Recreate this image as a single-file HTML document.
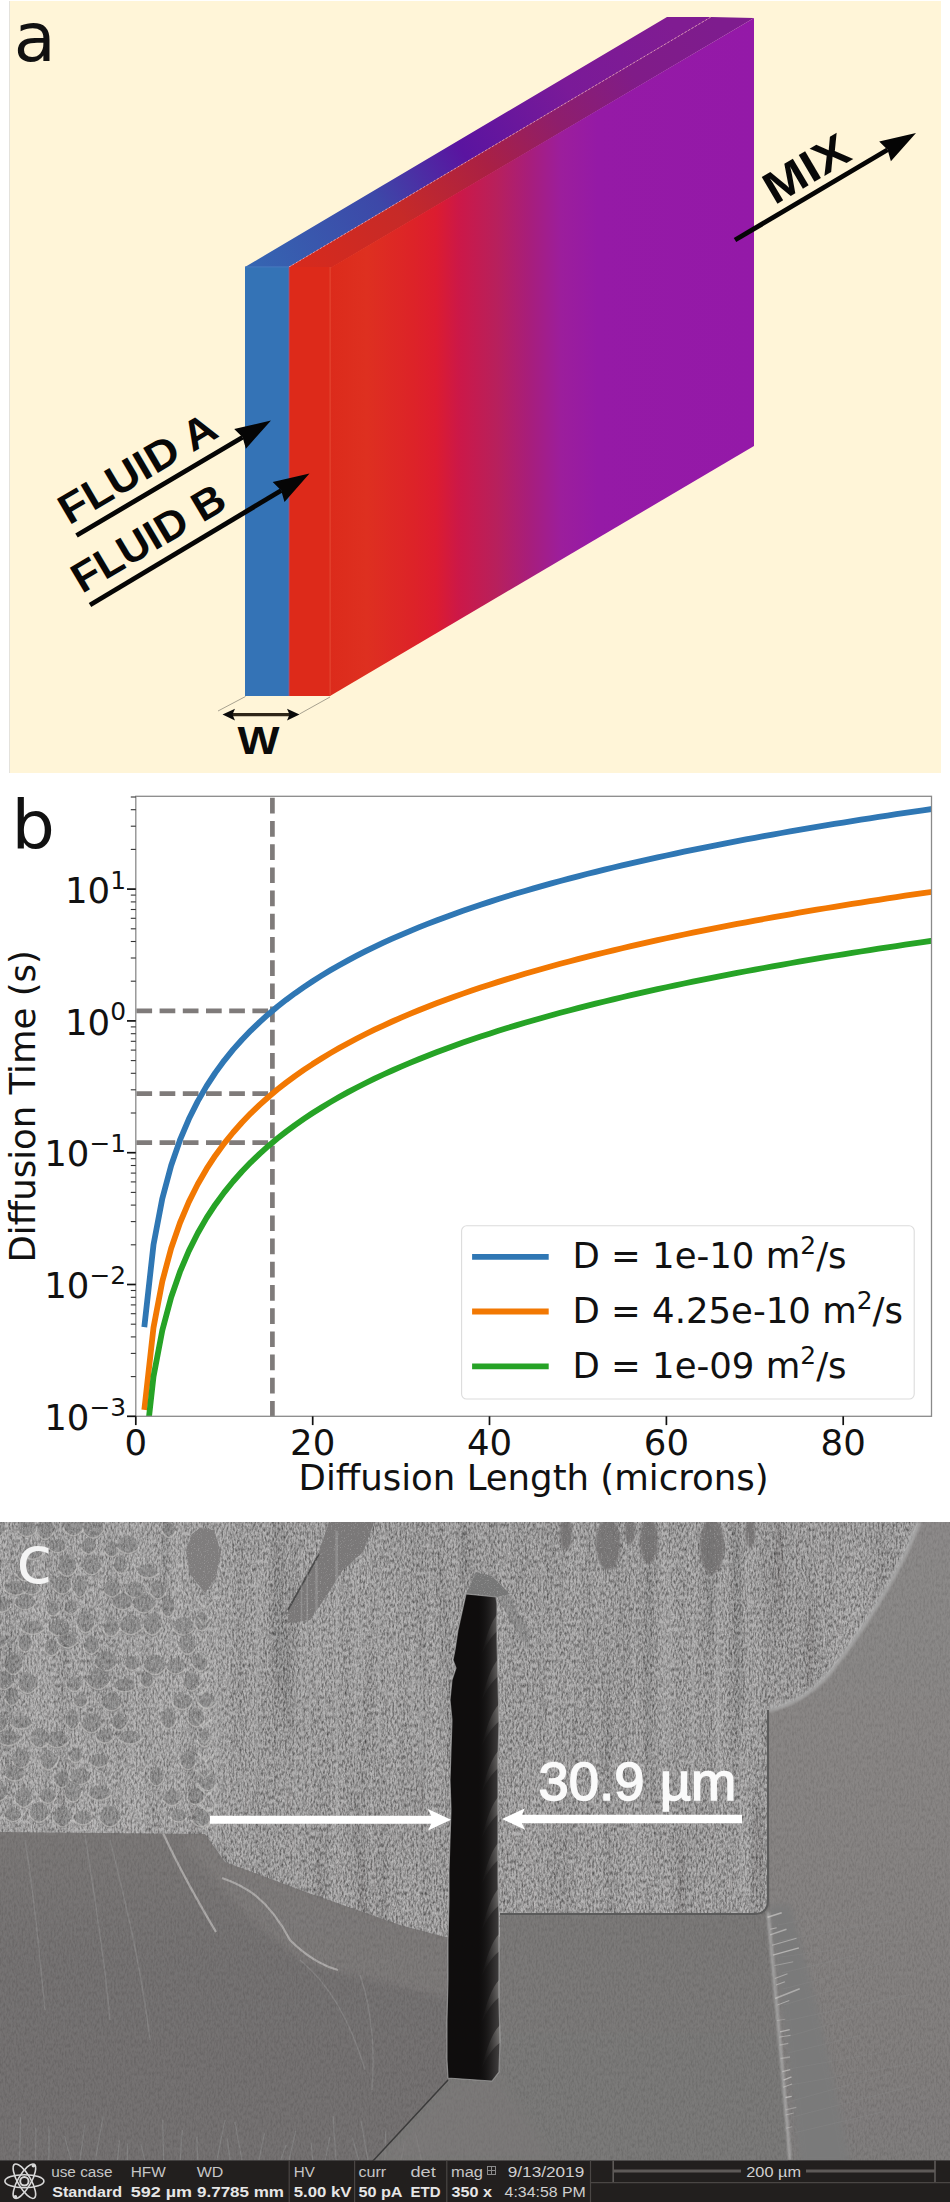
<!DOCTYPE html>
<html><head><meta charset="utf-8"><title>Diffusion mixing figure</title>
<style>
html,body{margin:0;padding:0;background:#fff;}
body{width:950px;height:2202px;overflow:hidden;position:relative;}
svg{display:block;position:absolute;left:0;top:0;}
.dj{font-family:"DejaVu Sans","Liberation Sans",sans-serif;}
.ls{font-family:"Liberation Sans","DejaVu Sans",sans-serif;}
</style></head><body>
<svg width="950" height="2202" viewBox="0 0 950 2202">
<defs>
<linearGradient id="gside" gradientUnits="userSpaceOnUse" x1="330" y1="0" x2="754" y2="0">
<stop offset="0" stop-color="#dc2b1b"/>
<stop offset="0.086" stop-color="#de3020"/>
<stop offset="0.196" stop-color="#dd2328"/>
<stop offset="0.25" stop-color="#dc1c30"/>
<stop offset="0.304" stop-color="#cc1848"/>
<stop offset="0.392" stop-color="#b8205c"/>
<stop offset="0.467" stop-color="#a81e7a"/>
<stop offset="0.545" stop-color="#9c1e9c"/>
<stop offset="0.632" stop-color="#951aa6"/>
<stop offset="1" stop-color="#9419a8"/>
</linearGradient>
<linearGradient id="gtopb" gradientUnits="userSpaceOnUse" x1="245" y1="267" x2="669" y2="17">
<stop offset="0" stop-color="#3566b2"/>
<stop offset="0.3" stop-color="#3d48a8"/>
<stop offset="0.5" stop-color="#5a14a0"/>
<stop offset="0.75" stop-color="#7a1a98"/>
<stop offset="1" stop-color="#801c92"/>
</linearGradient>
<linearGradient id="gtopr" gradientUnits="userSpaceOnUse" x1="289" y1="267" x2="713" y2="17">
<stop offset="0" stop-color="#d82a1c"/>
<stop offset="0.25" stop-color="#c62a28"/>
<stop offset="0.45" stop-color="#aa2044"/>
<stop offset="0.62" stop-color="#8e1e6c"/>
<stop offset="0.8" stop-color="#801c88"/>
<stop offset="1" stop-color="#7e1c8e"/>
</linearGradient>
</defs>
<g id="panelA">
<rect x="10" y="1" width="931" height="772" fill="#fff5d8"/>
<rect x="9" y="1" width="1" height="772" fill="#e4e2dc"/>
<polygon points="245,267 289,267 711,17 667,17" fill="url(#gtopb)"/>
<polygon points="289,267 331,268 754,18 711,17" fill="url(#gtopr)"/>
<polygon points="330,268 754,18 754,446 330,696" fill="url(#gside)"/>
<line x1="289" y1="267" x2="711" y2="17" stroke="#e9a0b8" stroke-width="0.9" stroke-dasharray="2 2" opacity="0.9"/>
<rect x="245" y="267" width="44" height="429" fill="#3473b6"/>
<rect x="289" y="267" width="41" height="429" fill="#dd2a1a"/>
<rect x="288.3" y="267" width="1.4" height="429" fill="#9a5a8a" opacity="0.6"/>
<rect x="329.6" y="267" width="1" height="429" fill="#e85a40" opacity="0.7"/>
<rect x="245" y="266.2" width="44" height="1.3" fill="#4a7cc0" opacity="0.7"/>
<line x1="245.5" y1="696.5" x2="218" y2="711" stroke="#a8a290" stroke-width="1"/>
<line x1="330" y1="697" x2="299.5" y2="714" stroke="#a8a290" stroke-width="1"/>
<line x1="230" y1="714.6" x2="293" y2="714.6" stroke="#2e2618" stroke-width="3.2"/>
<polygon points="222.5,714.6 235,708.8 232.5,714.6 235,720.6" fill="#0a0a0a"/>
<polygon points="299.5,714.6 287,708.8 289.5,714.6 287,720.6" fill="#0a0a0a"/>
<text x="237.5" y="754" class="ls" font-weight="bold" font-size="38" fill="#0a0a0a" textLength="42" lengthAdjust="spacingAndGlyphs">W</text>
<text x="13.8" y="61" class="dj" font-size="68.5" fill="#111">a</text>
<line x1="76.5" y1="535.5" x2="242.6" y2="437.3" stroke="#050505" stroke-width="4.8"/>
<polygon points="271.0,420.5 245.9,448.7 242.6,437.3 234.2,428.9" fill="#050505"/>
<line x1="90.0" y1="605.0" x2="281.2" y2="490.5" stroke="#050505" stroke-width="4.8"/>
<polygon points="309.5,473.5 284.5,501.9 281.2,490.5 272.7,482.1" fill="#050505"/>
<line x1="735.0" y1="240.0" x2="887.6" y2="149.8" stroke="#050505" stroke-width="4.8"/>
<polygon points="916.0,133.0 890.9,161.2 887.6,149.8 879.2,141.4" fill="#050505"/>
<text transform="translate(69,525.5) rotate(-30.6)" class="ls" font-weight="bold" font-size="42" fill="#080808" textLength="176" lengthAdjust="spacingAndGlyphs">FLUID A</text>
<text transform="translate(82,594) rotate(-30.6)" class="ls" font-weight="bold" font-size="42" fill="#080808" textLength="171" lengthAdjust="spacingAndGlyphs">FLUID B</text>
<text transform="translate(774.5,205.5) rotate(-30.6)" class="ls" font-weight="bold" font-size="45" fill="#080808" textLength="92" lengthAdjust="spacingAndGlyphs">MIX</text>
</g>
<g id="panelB">
<text x="11.6" y="849" class="dj" font-size="68.3" fill="#111">b</text>
<clipPath id="clipax"><rect x="135.8" y="796.3" width="795.7" height="620.0"/></clipPath>
<g stroke="#7f7b7a" stroke-width="4.7" fill="none" stroke-dasharray="15.7 7.5">
<line x1="272.4" y1="797.8" x2="272.4" y2="1416.3"/>
<line x1="136.4" y1="1010.8" x2="270.4" y2="1010.8"/>
<line x1="136.4" y1="1093.6" x2="270.4" y2="1093.6"/>
<line x1="136.4" y1="1142.6" x2="270.4" y2="1142.6"/>
</g>
<g clip-path="url(#clipax)" fill="none" stroke-width="5.8" stroke-linejoin="round" stroke-linecap="square">
<polyline stroke="#2f77b4" points="144.64,1324.18 153.49,1244.82 162.33,1198.41 171.17,1165.47 180.02,1139.93 188.86,1119.06 197.70,1101.41 206.54,1086.12 215.39,1072.64 224.23,1060.58 233.07,1049.66 241.92,1039.70 250.76,1030.54 259.60,1022.06 268.45,1014.16 277.29,1006.77 286.13,999.83 294.97,993.29 303.82,987.10 312.66,981.22 321.50,975.64 330.35,970.31 339.19,965.22 348.03,960.35 356.88,955.68 365.72,951.19 374.56,946.87 383.40,942.70 392.25,938.69 401.09,934.81 409.93,931.05 418.78,927.42 427.62,923.90 436.46,920.48 445.31,917.16 454.15,913.93 462.99,910.80 471.83,907.74 480.68,904.77 489.52,901.87 498.36,899.05 507.21,896.29 516.05,893.59 524.89,890.96 533.74,888.39 542.58,885.87 551.42,883.41 560.26,881.00 569.11,878.64 577.95,876.33 586.79,874.06 595.64,871.84 604.48,869.66 613.32,867.52 622.16,865.42 631.01,863.35 639.85,861.33 648.69,859.34 657.54,857.38 666.38,855.46 675.22,853.56 684.07,851.70 692.91,849.87 701.75,848.07 710.60,846.29 719.44,844.54 728.28,842.82 737.12,841.13 745.97,839.46 754.81,837.81 763.65,836.18 772.50,834.58 781.34,833.00 790.18,831.45 799.03,829.91 807.87,828.39 816.71,826.90 825.55,825.42 834.40,823.96 843.24,822.52 852.08,821.10 860.93,819.69 869.77,818.31 878.61,816.94 887.45,815.58 896.30,814.24 905.14,812.92 913.98,811.61 922.83,810.32 931.67,809.04"/>
<polyline stroke="#f27802" points="144.64,1407.00 153.49,1327.65 162.33,1281.23 171.17,1248.29 180.02,1222.75 188.86,1201.88 197.70,1184.23 206.54,1168.94 215.39,1155.46 224.23,1143.40 233.07,1132.49 241.92,1122.53 250.76,1113.36 259.60,1104.88 268.45,1096.98 277.29,1089.59 286.13,1082.65 294.97,1076.11 303.82,1069.92 312.66,1064.05 321.50,1058.46 330.35,1053.13 339.19,1048.05 348.03,1043.17 356.88,1038.50 365.72,1034.01 374.56,1029.69 383.40,1025.53 392.25,1021.51 401.09,1017.63 409.93,1013.87 418.78,1010.24 427.62,1006.72 436.46,1003.30 445.31,999.98 454.15,996.76 462.99,993.62 471.83,990.57 480.68,987.59 489.52,984.69 498.36,981.87 507.21,979.11 516.05,976.42 524.89,973.78 533.74,971.21 542.58,968.69 551.42,966.23 560.26,963.82 569.11,961.46 577.95,959.15 586.79,956.88 595.64,954.66 604.48,952.48 613.32,950.34 622.16,948.24 631.01,946.18 639.85,944.15 648.69,942.16 657.54,940.20 666.38,938.28 675.22,936.38 684.07,934.52 692.91,932.69 701.75,930.89 710.60,929.11 719.44,927.37 728.28,925.64 737.12,923.95 745.97,922.28 754.81,920.63 763.65,919.01 772.50,917.40 781.34,915.83 790.18,914.27 799.03,912.73 807.87,911.21 816.71,909.72 825.55,908.24 834.40,906.78 843.24,905.34 852.08,903.92 860.93,902.52 869.77,901.13 878.61,899.76 887.45,898.40 896.30,897.06 905.14,895.74 913.98,894.43 922.83,893.14 931.67,891.86"/>
<polyline stroke="#26a326" points="144.64,1455.98 153.49,1376.62 162.33,1330.21 171.17,1297.27 180.02,1271.73 188.86,1250.86 197.70,1233.21 206.54,1217.92 215.39,1204.44 224.23,1192.38 233.07,1181.46 241.92,1171.50 250.76,1162.34 259.60,1153.86 268.45,1145.96 277.29,1138.57 286.13,1131.63 294.97,1125.09 303.82,1118.90 312.66,1113.02 321.50,1107.44 330.35,1102.11 339.19,1097.02 348.03,1092.15 356.88,1087.48 365.72,1082.99 374.56,1078.67 383.40,1074.50 392.25,1070.49 401.09,1066.61 409.93,1062.85 418.78,1059.22 427.62,1055.70 436.46,1052.28 445.31,1048.96 454.15,1045.73 462.99,1042.60 471.83,1039.54 480.68,1036.57 489.52,1033.67 498.36,1030.85 507.21,1028.09 516.05,1025.39 524.89,1022.76 533.74,1020.19 542.58,1017.67 551.42,1015.21 560.26,1012.80 569.11,1010.44 577.95,1008.13 586.79,1005.86 595.64,1003.64 604.48,1001.46 613.32,999.32 622.16,997.22 631.01,995.15 639.85,993.13 648.69,991.14 657.54,989.18 666.38,987.26 675.22,985.36 684.07,983.50 692.91,981.67 701.75,979.87 710.60,978.09 719.44,976.34 728.28,974.62 737.12,972.93 745.97,971.26 754.81,969.61 763.65,967.98 772.50,966.38 781.34,964.80 790.18,963.25 799.03,961.71 807.87,960.19 816.71,958.70 825.55,957.22 834.40,955.76 843.24,954.32 852.08,952.90 860.93,951.49 869.77,950.11 878.61,948.74 887.45,947.38 896.30,946.04 905.14,944.72 913.98,943.41 922.83,942.12 931.67,940.84"/>
</g>
<rect x="135.8" y="796.3" width="795.7" height="620.0" fill="none" stroke="#8a8a8a" stroke-width="1.3"/>
<g stroke="#111" stroke-width="1.7"><line x1="135.8" y1="1416.3" x2="135.8" y2="1425.1"/><line x1="312.7" y1="1416.3" x2="312.7" y2="1425.1"/><line x1="489.5" y1="1416.3" x2="489.5" y2="1425.1"/><line x1="666.4" y1="1416.3" x2="666.4" y2="1425.1"/><line x1="843.2" y1="1416.3" x2="843.2" y2="1425.1"/><line x1="127.0" y1="1416.3" x2="135.8" y2="1416.3"/><line x1="127.0" y1="1284.5" x2="135.8" y2="1284.5"/><line x1="127.0" y1="1152.7" x2="135.8" y2="1152.7"/><line x1="127.0" y1="1020.9" x2="135.8" y2="1020.9"/><line x1="127.0" y1="889.1" x2="135.8" y2="889.1"/></g>
<g stroke="#333" stroke-width="1.1"><line x1="130.8" y1="1376.6" x2="135.8" y2="1376.6"/><line x1="130.8" y1="1353.4" x2="135.8" y2="1353.4"/><line x1="130.8" y1="1336.9" x2="135.8" y2="1336.9"/><line x1="130.8" y1="1324.2" x2="135.8" y2="1324.2"/><line x1="130.8" y1="1313.7" x2="135.8" y2="1313.7"/><line x1="130.8" y1="1304.9" x2="135.8" y2="1304.9"/><line x1="130.8" y1="1297.3" x2="135.8" y2="1297.3"/><line x1="130.8" y1="1290.5" x2="135.8" y2="1290.5"/><line x1="130.8" y1="1244.8" x2="135.8" y2="1244.8"/><line x1="130.8" y1="1221.6" x2="135.8" y2="1221.6"/><line x1="130.8" y1="1205.1" x2="135.8" y2="1205.1"/><line x1="130.8" y1="1192.4" x2="135.8" y2="1192.4"/><line x1="130.8" y1="1181.9" x2="135.8" y2="1181.9"/><line x1="130.8" y1="1173.1" x2="135.8" y2="1173.1"/><line x1="130.8" y1="1165.5" x2="135.8" y2="1165.5"/><line x1="130.8" y1="1158.7" x2="135.8" y2="1158.7"/><line x1="130.8" y1="1113.0" x2="135.8" y2="1113.0"/><line x1="130.8" y1="1089.8" x2="135.8" y2="1089.8"/><line x1="130.8" y1="1073.3" x2="135.8" y2="1073.3"/><line x1="130.8" y1="1060.6" x2="135.8" y2="1060.6"/><line x1="130.8" y1="1050.1" x2="135.8" y2="1050.1"/><line x1="130.8" y1="1041.3" x2="135.8" y2="1041.3"/><line x1="130.8" y1="1033.7" x2="135.8" y2="1033.7"/><line x1="130.8" y1="1026.9" x2="135.8" y2="1026.9"/><line x1="130.8" y1="981.2" x2="135.8" y2="981.2"/><line x1="130.8" y1="958.0" x2="135.8" y2="958.0"/><line x1="130.8" y1="941.5" x2="135.8" y2="941.5"/><line x1="130.8" y1="928.8" x2="135.8" y2="928.8"/><line x1="130.8" y1="918.3" x2="135.8" y2="918.3"/><line x1="130.8" y1="909.5" x2="135.8" y2="909.5"/><line x1="130.8" y1="901.9" x2="135.8" y2="901.9"/><line x1="130.8" y1="895.1" x2="135.8" y2="895.1"/><line x1="130.8" y1="849.4" x2="135.8" y2="849.4"/><line x1="130.8" y1="826.2" x2="135.8" y2="826.2"/><line x1="130.8" y1="809.7" x2="135.8" y2="809.7"/><line x1="130.8" y1="797.0" x2="135.8" y2="797.0"/></g>
<g class="dj" font-size="35.5" fill="#111" text-anchor="middle">
<text x="135.8" y="1454.5">0</text>
<text x="312.7" y="1454.5">20</text>
<text x="489.5" y="1454.5">40</text>
<text x="666.4" y="1454.5">60</text>
<text x="843.2" y="1454.5">80</text>
</g>
<g class="dj" font-size="35.5" fill="#111" text-anchor="end">
<text x="126" y="1429.9">10<tspan font-size="24.85" dy="-14.2">−3</tspan></text>
<text x="126" y="1298.1">10<tspan font-size="24.85" dy="-14.2">−2</tspan></text>
<text x="126" y="1166.3">10<tspan font-size="24.85" dy="-14.2">−1</tspan></text>
<text x="126" y="1034.5">10<tspan font-size="24.85" dy="-14.2">0</tspan></text>
<text x="126" y="902.7">10<tspan font-size="24.85" dy="-14.2">1</tspan></text>
</g>
<text x="533.6" y="1490.4" class="dj" font-size="35.5" fill="#111" text-anchor="middle">Diffusion Length (microns)</text>
<text transform="translate(35.1,1106.3) rotate(-90)" class="dj" font-size="35.5" fill="#111" text-anchor="middle">Diffusion Time (s)</text>
<rect x="461.6" y="1225.8" width="452.6" height="173.2" rx="5" fill="#fff" fill-opacity="0.8" stroke="#dcdcdc" stroke-width="1.1"/>
<line x1="472.1" y1="1256.8" x2="548.7" y2="1256.8" stroke="#2f77b4" stroke-width="5.8"/>
<text x="572.4" y="1268.4" class="dj" font-size="35.5" fill="#111">D = 1e-10 m<tspan font-size="24.85" dy="-14.2">2</tspan><tspan dy="14.2">/s</tspan></text>
<line x1="472.1" y1="1311.5" x2="548.7" y2="1311.5" stroke="#f27802" stroke-width="5.8"/>
<text x="572.4" y="1323.1" class="dj" font-size="35.5" fill="#111">D = 4.25e-10 m<tspan font-size="24.85" dy="-14.2">2</tspan><tspan dy="14.2">/s</tspan></text>
<line x1="472.1" y1="1366.3" x2="548.7" y2="1366.3" stroke="#26a326" stroke-width="5.8"/>
<text x="572.4" y="1377.9" class="dj" font-size="35.5" fill="#111">D = 1e-09 m<tspan font-size="24.85" dy="-14.2">2</tspan><tspan dy="14.2">/s</tspan></text>
</g>
<g id="panelC">
<defs>
<filter id="tex1" x="0" y="0" width="100%" height="100%">
<feTurbulence type="fractalNoise" baseFrequency="0.55 0.25" numOctaves="2" seed="4"/>
<feColorMatrix type="matrix" values="1 0 0 0 0  1 0 0 0 0  1 0 0 0 0  0 0 0 0 1"/>
<feComponentTransfer><feFuncR type="gamma" amplitude="2.6" exponent="2.2" offset="0"/><feFuncG type="gamma" amplitude="2.6" exponent="2.2" offset="0"/><feFuncB type="gamma" amplitude="2.6" exponent="2.2" offset="0"/></feComponentTransfer>
</filter>
<filter id="tex2" x="0" y="0" width="100%" height="100%">
<feTurbulence type="fractalNoise" baseFrequency="0.7" numOctaves="2" seed="9"/>
<feColorMatrix type="matrix" values="0 0 0 0 1  0 0 0 0 1  0 0 0 0 1  3.5 0 0 0 -2.0"/>
</filter>
<filter id="tex3" x="0" y="0" width="100%" height="100%">
<feTurbulence type="fractalNoise" baseFrequency="0.9" numOctaves="1" seed="5"/>
<feColorMatrix type="matrix" values="1 0 0 0 0  1 0 0 0 0  1 0 0 0 0  0 0 0 0 1"/>
</filter>
<filter id="tex4" x="0" y="0" width="100%" height="100%">
<feTurbulence type="fractalNoise" baseFrequency="0.07 0.004" numOctaves="2" seed="21"/>
<feColorMatrix type="matrix" values="1 0 0 0 0  1 0 0 0 0  1 0 0 0 0  0 0 0 0 1"/>
<feComponentTransfer><feFuncR type="linear" slope="2.2" intercept="-0.6"/><feFuncG type="linear" slope="2.2" intercept="-0.6"/><feFuncB type="linear" slope="2.2" intercept="-0.6"/></feComponentTransfer>
</filter>
<filter id="blur1"><feGaussianBlur stdDeviation="1.2"/></filter>
<filter id="blur3"><feGaussianBlur stdDeviation="3"/></filter>
<linearGradient id="wallg" x1="0" y1="0" x2="1" y2="0"><stop offset="0" stop-color="#111" stop-opacity="0"/><stop offset="0.6" stop-color="#2a2828"/><stop offset="1" stop-color="#4a4848"/></linearGradient>
<linearGradient id="wedge" x1="1" y1="0" x2="0" y2="0.3">
<stop offset="0" stop-color="#8a8886"/>
<stop offset="1" stop-color="#2a2828" stop-opacity="0.2"/>
</linearGradient>
<linearGradient id="gll" x1="0" y1="0" x2="0" y2="1"><stop offset="0" stop-color="#726f6e"/><stop offset="0.4" stop-color="#6b6868"/><stop offset="1" stop-color="#6b6868"/></linearGradient>
<linearGradient id="grt" x1="0" y1="0" x2="0" y2="1"><stop offset="0" stop-color="#848180"/><stop offset="0.45" stop-color="#7e7b7a"/><stop offset="1" stop-color="#767372"/></linearGradient>
<clipPath id="clipsem"><rect x="0" y="1522" width="950" height="638.4"/></clipPath>
<clipPath id="cliptex"><path d="M0,1522 L919,1522 C900,1570 870,1620 830,1672 C810,1695 790,1705 768,1710 L768,1900 Q768,1914 754,1914 L500,1914 L500,1937 L445,1937 L400,1925 L300,1890 L225,1862 L205,1834 L0,1832 Z"/></clipPath>
<clipPath id="clipright"><path d="M919,1522 L950,1522 L950,2162 L788,2162 C784,2080 778,2000 770,1925 L768,1710 C790,1705 810,1695 830,1672 C870,1620 900,1570 919,1522 Z"/></clipPath>
</defs>
<g clip-path="url(#clipsem)">
<rect x="0" y="1522" width="950" height="640" fill="#72706f"/>
<path d="M0,1830 L450,1830 L450,2078 L372,2163 L0,2163 Z" fill="url(#gll)"/>
<path d="M205,1834 L225,1862 L300,1890 L400,1925 L450,1937 L450,2000 C400,1985 340,1975 300,1960 C260,1930 220,1890 180,1840 Z" fill="#7a7776" opacity="0.6" filter="url(#blur3)"/>
<path d="M25,1840 C35,1900 40,1960 45,2010" fill="none" stroke="#969696" stroke-width="1.4" opacity="0.4"/>
<path d="M85,1835 C95,1900 105,1960 110,2020" fill="none" stroke="#969696" stroke-width="1.4" opacity="0.4"/>
<path d="M110,1840 C125,1900 140,1960 150,2040" fill="none" stroke="#969696" stroke-width="1.4" opacity="0.4"/>
<path d="M300,1960 C330,1985 350,2020 365,2070" fill="none" stroke="#969696" stroke-width="1.4" opacity="0.4"/>
<path d="M360,1975 C372,2010 375,2050 372,2090" fill="none" stroke="#969696" stroke-width="1.4" opacity="0.4"/>
<path d="M163,1833 C180,1870 200,1905 216,1932" fill="none" stroke="#b4b2b0" stroke-width="2.2" opacity="0.8"/>
<path d="M222,1878 C245,1886 268,1898 290,1940 C305,1955 320,1965 338,1970" fill="none" stroke="#b4b2b0" stroke-width="2.2" opacity="0.8"/>
<path d="M19.5,2160 L20.5,2117.3" stroke="#8c8c8c" stroke-width="1.2" opacity="0.5"/>
<path d="M35.7,2160 L35.8,2127.4" stroke="#8c8c8c" stroke-width="1.2" opacity="0.5"/>
<path d="M48.8,2160 L49.0,2126.1" stroke="#8c8c8c" stroke-width="1.2" opacity="0.5"/>
<path d="M70.9,2160 L64.4,2135.9" stroke="#8c8c8c" stroke-width="1.2" opacity="0.5"/>
<path d="M79.9,2160 L84.9,2124.2" stroke="#8c8c8c" stroke-width="1.2" opacity="0.5"/>
<path d="M95.4,2160 L103.1,2116.1" stroke="#8c8c8c" stroke-width="1.2" opacity="0.5"/>
<path d="M117.5,2160 L119.4,2140.3" stroke="#8c8c8c" stroke-width="1.2" opacity="0.5"/>
<path d="M127.2,2160 L127.6,2143.2" stroke="#8c8c8c" stroke-width="1.2" opacity="0.5"/>
<path d="M144.9,2160 L140.8,2144.1" stroke="#8c8c8c" stroke-width="1.2" opacity="0.5"/>
<path d="M163.6,2160 L162.7,2119.7" stroke="#8c8c8c" stroke-width="1.2" opacity="0.5"/>
<path d="M180.2,2160 L182.4,2130.0" stroke="#8c8c8c" stroke-width="1.2" opacity="0.5"/>
<path d="M197.6,2160 L196.9,2136.7" stroke="#8c8c8c" stroke-width="1.2" opacity="0.5"/>
<path d="M217.0,2160 L224.9,2119.8" stroke="#8c8c8c" stroke-width="1.2" opacity="0.5"/>
<path d="M230.1,2160 L227.1,2138.1" stroke="#8c8c8c" stroke-width="1.2" opacity="0.5"/>
<path d="M241.9,2160 L235.0,2122.0" stroke="#8c8c8c" stroke-width="1.2" opacity="0.5"/>
<path d="M259.0,2160 L264.5,2133.4" stroke="#8c8c8c" stroke-width="1.2" opacity="0.5"/>
<path d="M280.6,2160 L286.1,2145.0" stroke="#8c8c8c" stroke-width="1.2" opacity="0.5"/>
<path d="M289.1,2160 L295.7,2130.9" stroke="#8c8c8c" stroke-width="1.2" opacity="0.5"/>
<path d="M312.8,2160 L311.2,2142.8" stroke="#8c8c8c" stroke-width="1.2" opacity="0.5"/>
<path d="M325.3,2160 L329.8,2136.9" stroke="#8c8c8c" stroke-width="1.2" opacity="0.5"/>
<path d="M335.9,2160 L333.2,2116.1" stroke="#8c8c8c" stroke-width="1.2" opacity="0.5"/>
<path d="M358.6,2160 L352.5,2137.6" stroke="#8c8c8c" stroke-width="1.2" opacity="0.5"/>
<path d="M368.0,2160 L361.0,2121.1" stroke="#8c8c8c" stroke-width="1.2" opacity="0.5"/>
<path d="M384.8,2160 L385.7,2131.6" stroke="#8c8c8c" stroke-width="1.2" opacity="0.5"/>
<path d="M400.9,2160 L404.6,2141.1" stroke="#8c8c8c" stroke-width="1.2" opacity="0.5"/>
<path d="M421.4,2160 L415.3,2132.4" stroke="#8c8c8c" stroke-width="1.2" opacity="0.5"/>
<rect x="0" y="1820" width="950" height="345" filter="url(#tex1)" opacity="0.07"/>
<path d="M0,1522 L919,1522 C900,1570 870,1620 830,1672 C810,1695 790,1705 768,1710 L768,1900 Q768,1914 754,1914 L500,1914 L500,1937 L445,1937 L400,1925 L300,1890 L225,1862 L205,1834 L0,1832 Z" fill="#6a6868"/>
<g clip-path="url(#cliptex)">
<rect x="0" y="1522" width="950" height="450" filter="url(#tex4)" opacity="0.12"/>
<rect x="0" y="1522" width="950" height="450" filter="url(#tex1)" opacity="0.42"/>
<path d="M329,1522 L374,1522 L363,1552 L342,1571 L329,1592 L310,1620 L288,1623 L288,1608 L319,1552 Z" fill="#7a7878"/>
<path d="M319,1554 L288,1610" stroke="#4a4a4a" stroke-width="1.6"/>
<path d="M466,1594 L476,1572 L492,1576 L510,1594 L497,1597 Z" fill="#777"/>
<path d="M498,1597 L508,1594 L532,1638 L522,1642 Z" fill="#7a7a7a" opacity="0.45"/>
<path d="M200,1528 L214,1530 L221,1552 L216,1578 L205,1593 L190,1574 L186,1550 L192,1534 Z" fill="#767474"/>
<ellipse cx="608.0" cy="1544.0" rx="12.0" ry="26.0" fill="#727070" opacity="0.85" filter="url(#blur1)"/>
<ellipse cx="649.0" cy="1541.0" rx="9.0" ry="23.0" fill="#727070" opacity="0.85" filter="url(#blur1)"/>
<ellipse cx="712.0" cy="1546.0" rx="12.0" ry="28.0" fill="#727070" opacity="0.85" filter="url(#blur1)"/>
<ellipse cx="566.0" cy="1534.0" rx="6.0" ry="16.0" fill="#727070" opacity="0.85" filter="url(#blur1)"/>
<ellipse cx="750.0" cy="1533.0" rx="5.0" ry="15.0" fill="#727070" opacity="0.85" filter="url(#blur1)"/>
<ellipse cx="630.0" cy="1531.0" rx="5.0" ry="13.0" fill="#727070" opacity="0.85" filter="url(#blur1)"/>
<rect x="0" y="1522" width="230" height="320" fill="#fff" opacity="0.07"/>
<ellipse cx="-2.9" cy="1528.2" rx="7.7" ry="10.3" fill="#6a6868" opacity="0.38"/>
<path d="M-11.6,1530.2 Q-2.9,1543.6 5.8,1530.2" stroke="#d4d2d0" stroke-width="1.6" fill="none" opacity="0.45"/>
<ellipse cx="27.0" cy="1528.4" rx="8.8" ry="9.7" fill="#6a6868" opacity="0.38"/>
<path d="M17.2,1530.4 Q27.0,1542.9 36.9,1530.4" stroke="#d4d2d0" stroke-width="1.6" fill="none" opacity="0.45"/>
<ellipse cx="45.1" cy="1529.2" rx="7.9" ry="12.0" fill="#6a6868" opacity="0.38"/>
<path d="M36.2,1531.6 Q45.1,1547.2 54.1,1531.6" stroke="#d4d2d0" stroke-width="1.6" fill="none" opacity="0.45"/>
<ellipse cx="73.4" cy="1526.8" rx="9.2" ry="10.5" fill="#6a6868" opacity="0.38"/>
<path d="M63.2,1528.9 Q73.4,1542.6 83.6,1528.9" stroke="#d4d2d0" stroke-width="1.6" fill="none" opacity="0.45"/>
<ellipse cx="93.1" cy="1528.1" rx="9.8" ry="11.9" fill="#6a6868" opacity="0.38"/>
<path d="M82.3,1530.4 Q93.1,1545.9 103.9,1530.4" stroke="#d4d2d0" stroke-width="1.6" fill="none" opacity="0.45"/>
<ellipse cx="169.0" cy="1529.0" rx="6.1" ry="10.1" fill="#6a6868" opacity="0.38"/>
<path d="M161.9,1531.0 Q169.0,1544.1 176.1,1531.0" stroke="#d4d2d0" stroke-width="1.6" fill="none" opacity="0.45"/>
<ellipse cx="32.5" cy="1552.3" rx="9.7" ry="8.3" fill="#6a6868" opacity="0.38"/>
<path d="M21.8,1553.9 Q32.5,1564.7 43.2,1553.9" stroke="#d4d2d0" stroke-width="1.6" fill="none" opacity="0.45"/>
<ellipse cx="57.5" cy="1546.5" rx="8.0" ry="7.3" fill="#6a6868" opacity="0.38"/>
<path d="M48.5,1548.0 Q57.5,1557.4 66.5,1548.0" stroke="#d4d2d0" stroke-width="1.6" fill="none" opacity="0.45"/>
<ellipse cx="88.4" cy="1546.6" rx="7.0" ry="8.9" fill="#6a6868" opacity="0.38"/>
<path d="M80.4,1548.3 Q88.4,1559.9 96.4,1548.3" stroke="#d4d2d0" stroke-width="1.6" fill="none" opacity="0.45"/>
<ellipse cx="111.8" cy="1549.8" rx="6.5" ry="8.3" fill="#6a6868" opacity="0.38"/>
<path d="M104.3,1551.5 Q111.8,1562.2 119.3,1551.5" stroke="#d4d2d0" stroke-width="1.6" fill="none" opacity="0.45"/>
<ellipse cx="128.0" cy="1545.3" rx="10.5" ry="9.8" fill="#6a6868" opacity="0.38"/>
<path d="M116.5,1547.3 Q128.0,1559.9 139.6,1547.3" stroke="#d4d2d0" stroke-width="1.6" fill="none" opacity="0.45"/>
<ellipse cx="24.6" cy="1570.8" rx="8.5" ry="11.8" fill="#6a6868" opacity="0.38"/>
<path d="M15.1,1573.2 Q24.6,1588.6 34.1,1573.2" stroke="#d4d2d0" stroke-width="1.6" fill="none" opacity="0.45"/>
<ellipse cx="67.2" cy="1566.2" rx="8.8" ry="12.0" fill="#6a6868" opacity="0.38"/>
<path d="M57.3,1568.5 Q67.2,1584.1 77.0,1568.5" stroke="#d4d2d0" stroke-width="1.6" fill="none" opacity="0.45"/>
<ellipse cx="91.6" cy="1565.4" rx="9.2" ry="11.0" fill="#6a6868" opacity="0.38"/>
<path d="M81.4,1567.6 Q91.6,1582.0 101.8,1567.6" stroke="#d4d2d0" stroke-width="1.6" fill="none" opacity="0.45"/>
<ellipse cx="120.7" cy="1565.1" rx="6.4" ry="10.0" fill="#6a6868" opacity="0.38"/>
<path d="M113.3,1567.1 Q120.7,1580.0 128.1,1567.1" stroke="#d4d2d0" stroke-width="1.6" fill="none" opacity="0.45"/>
<ellipse cx="147.9" cy="1571.8" rx="9.8" ry="7.2" fill="#6a6868" opacity="0.38"/>
<path d="M137.1,1573.3 Q147.9,1582.7 158.7,1573.3" stroke="#d4d2d0" stroke-width="1.6" fill="none" opacity="0.45"/>
<ellipse cx="16.1" cy="1588.6" rx="10.7" ry="7.8" fill="#6a6868" opacity="0.38"/>
<path d="M4.5,1590.2 Q16.1,1600.3 27.8,1590.2" stroke="#d4d2d0" stroke-width="1.6" fill="none" opacity="0.45"/>
<ellipse cx="31.2" cy="1588.1" rx="8.4" ry="7.8" fill="#6a6868" opacity="0.38"/>
<path d="M21.9,1589.7 Q31.2,1599.9 40.6,1589.7" stroke="#d4d2d0" stroke-width="1.6" fill="none" opacity="0.45"/>
<ellipse cx="62.3" cy="1585.6" rx="8.5" ry="10.1" fill="#6a6868" opacity="0.38"/>
<path d="M52.8,1587.6 Q62.3,1600.6 71.8,1587.6" stroke="#d4d2d0" stroke-width="1.6" fill="none" opacity="0.45"/>
<ellipse cx="79.8" cy="1587.4" rx="6.3" ry="11.7" fill="#6a6868" opacity="0.38"/>
<path d="M72.5,1589.7 Q79.8,1605.0 87.0,1589.7" stroke="#d4d2d0" stroke-width="1.6" fill="none" opacity="0.45"/>
<ellipse cx="112.0" cy="1588.9" rx="8.1" ry="9.6" fill="#6a6868" opacity="0.38"/>
<path d="M102.9,1590.8 Q112.0,1603.3 121.1,1590.8" stroke="#d4d2d0" stroke-width="1.6" fill="none" opacity="0.45"/>
<ellipse cx="134.9" cy="1590.3" rx="9.0" ry="8.8" fill="#6a6868" opacity="0.38"/>
<path d="M124.9,1592.1 Q134.9,1603.6 144.9,1592.1" stroke="#d4d2d0" stroke-width="1.6" fill="none" opacity="0.45"/>
<ellipse cx="157.9" cy="1590.2" rx="7.4" ry="10.3" fill="#6a6868" opacity="0.38"/>
<path d="M149.4,1592.3 Q157.9,1605.6 166.3,1592.3" stroke="#d4d2d0" stroke-width="1.6" fill="none" opacity="0.45"/>
<ellipse cx="1.2" cy="1605.1" rx="8.8" ry="8.4" fill="#6a6868" opacity="0.38"/>
<path d="M-8.6,1606.7 Q1.2,1617.7 11.1,1606.7" stroke="#d4d2d0" stroke-width="1.6" fill="none" opacity="0.45"/>
<ellipse cx="25.1" cy="1602.6" rx="9.6" ry="8.5" fill="#6a6868" opacity="0.38"/>
<path d="M14.5,1604.3 Q25.1,1615.4 35.7,1604.3" stroke="#d4d2d0" stroke-width="1.6" fill="none" opacity="0.45"/>
<ellipse cx="52.9" cy="1609.0" rx="6.1" ry="8.2" fill="#6a6868" opacity="0.38"/>
<path d="M45.9,1610.7 Q52.9,1621.4 60.0,1610.7" stroke="#d4d2d0" stroke-width="1.6" fill="none" opacity="0.45"/>
<ellipse cx="70.9" cy="1607.9" rx="6.2" ry="7.8" fill="#6a6868" opacity="0.38"/>
<path d="M63.7,1609.4 Q70.9,1619.6 78.1,1609.4" stroke="#d4d2d0" stroke-width="1.6" fill="none" opacity="0.45"/>
<ellipse cx="122.5" cy="1602.2" rx="9.8" ry="8.9" fill="#6a6868" opacity="0.38"/>
<path d="M111.7,1604.0 Q122.5,1615.7 133.3,1604.0" stroke="#d4d2d0" stroke-width="1.6" fill="none" opacity="0.45"/>
<ellipse cx="143.8" cy="1603.8" rx="10.5" ry="10.7" fill="#6a6868" opacity="0.38"/>
<path d="M132.3,1606.0 Q143.8,1620.0 155.3,1606.0" stroke="#d4d2d0" stroke-width="1.6" fill="none" opacity="0.45"/>
<ellipse cx="168.0" cy="1606.9" rx="6.3" ry="11.9" fill="#6a6868" opacity="0.38"/>
<path d="M160.7,1609.3 Q168.0,1624.8 175.2,1609.3" stroke="#d4d2d0" stroke-width="1.6" fill="none" opacity="0.45"/>
<ellipse cx="32.7" cy="1628.2" rx="10.7" ry="7.4" fill="#6a6868" opacity="0.38"/>
<path d="M21.0,1629.7 Q32.7,1639.3 44.4,1629.7" stroke="#d4d2d0" stroke-width="1.6" fill="none" opacity="0.45"/>
<ellipse cx="59.4" cy="1628.1" rx="10.5" ry="9.1" fill="#6a6868" opacity="0.38"/>
<path d="M47.9,1630.0 Q59.4,1641.9 70.9,1630.0" stroke="#d4d2d0" stroke-width="1.6" fill="none" opacity="0.45"/>
<ellipse cx="85.7" cy="1622.6" rx="8.4" ry="11.9" fill="#6a6868" opacity="0.38"/>
<path d="M76.3,1625.0 Q85.7,1640.4 95.0,1625.0" stroke="#d4d2d0" stroke-width="1.6" fill="none" opacity="0.45"/>
<ellipse cx="111.1" cy="1628.3" rx="7.2" ry="9.6" fill="#6a6868" opacity="0.38"/>
<path d="M102.8,1630.2 Q111.1,1642.7 119.3,1630.2" stroke="#d4d2d0" stroke-width="1.6" fill="none" opacity="0.45"/>
<ellipse cx="130.8" cy="1625.7" rx="10.7" ry="10.6" fill="#6a6868" opacity="0.38"/>
<path d="M119.2,1627.8 Q130.8,1641.6 142.5,1627.8" stroke="#d4d2d0" stroke-width="1.6" fill="none" opacity="0.45"/>
<ellipse cx="152.4" cy="1625.0" rx="8.3" ry="11.9" fill="#6a6868" opacity="0.38"/>
<path d="M143.0,1627.4 Q152.4,1642.8 161.7,1627.4" stroke="#d4d2d0" stroke-width="1.6" fill="none" opacity="0.45"/>
<ellipse cx="183.5" cy="1626.7" rx="10.1" ry="10.0" fill="#6a6868" opacity="0.38"/>
<path d="M172.4,1628.7 Q183.5,1641.7 194.6,1628.7" stroke="#d4d2d0" stroke-width="1.6" fill="none" opacity="0.45"/>
<ellipse cx="201.8" cy="1622.4" rx="6.6" ry="10.1" fill="#6a6868" opacity="0.38"/>
<path d="M194.2,1624.4 Q201.8,1637.5 209.3,1624.4" stroke="#d4d2d0" stroke-width="1.6" fill="none" opacity="0.45"/>
<ellipse cx="-2.2" cy="1641.7" rx="8.3" ry="8.0" fill="#6a6868" opacity="0.38"/>
<path d="M-11.5,1643.3 Q-2.2,1653.7 7.0,1643.3" stroke="#d4d2d0" stroke-width="1.6" fill="none" opacity="0.45"/>
<ellipse cx="25.3" cy="1644.0" rx="6.3" ry="9.6" fill="#6a6868" opacity="0.38"/>
<path d="M18.0,1645.9 Q25.3,1658.4 32.5,1645.9" stroke="#d4d2d0" stroke-width="1.6" fill="none" opacity="0.45"/>
<ellipse cx="51.4" cy="1647.9" rx="6.6" ry="9.2" fill="#6a6868" opacity="0.38"/>
<path d="M43.8,1649.7 Q51.4,1661.7 59.0,1649.7" stroke="#d4d2d0" stroke-width="1.6" fill="none" opacity="0.45"/>
<ellipse cx="67.7" cy="1640.3" rx="9.3" ry="9.3" fill="#6a6868" opacity="0.38"/>
<path d="M57.4,1642.1 Q67.7,1654.2 78.1,1642.1" stroke="#d4d2d0" stroke-width="1.6" fill="none" opacity="0.45"/>
<ellipse cx="91.4" cy="1645.7" rx="7.3" ry="9.9" fill="#6a6868" opacity="0.38"/>
<path d="M83.1,1647.7 Q91.4,1660.5 99.7,1647.7" stroke="#d4d2d0" stroke-width="1.6" fill="none" opacity="0.45"/>
<ellipse cx="187.5" cy="1645.0" rx="8.1" ry="10.9" fill="#6a6868" opacity="0.38"/>
<path d="M178.4,1647.2 Q187.5,1661.4 196.6,1647.2" stroke="#d4d2d0" stroke-width="1.6" fill="none" opacity="0.45"/>
<ellipse cx="13.3" cy="1664.2" rx="8.7" ry="12.0" fill="#6a6868" opacity="0.38"/>
<path d="M3.6,1666.6 Q13.3,1682.2 23.0,1666.6" stroke="#d4d2d0" stroke-width="1.6" fill="none" opacity="0.45"/>
<ellipse cx="105.7" cy="1661.8" rx="10.8" ry="10.7" fill="#6a6868" opacity="0.38"/>
<path d="M94.0,1663.9 Q105.7,1677.8 117.5,1663.9" stroke="#d4d2d0" stroke-width="1.6" fill="none" opacity="0.45"/>
<ellipse cx="132.2" cy="1663.9" rx="7.2" ry="7.6" fill="#6a6868" opacity="0.38"/>
<path d="M124.0,1665.4 Q132.2,1675.3 140.4,1665.4" stroke="#d4d2d0" stroke-width="1.6" fill="none" opacity="0.45"/>
<ellipse cx="154.9" cy="1665.3" rx="10.5" ry="10.9" fill="#6a6868" opacity="0.38"/>
<path d="M143.5,1667.5 Q154.9,1681.7 166.4,1667.5" stroke="#d4d2d0" stroke-width="1.6" fill="none" opacity="0.45"/>
<ellipse cx="175.9" cy="1666.5" rx="9.1" ry="8.8" fill="#6a6868" opacity="0.38"/>
<path d="M165.7,1668.2 Q175.9,1679.7 186.0,1668.2" stroke="#d4d2d0" stroke-width="1.6" fill="none" opacity="0.45"/>
<ellipse cx="200.3" cy="1662.6" rx="7.4" ry="10.4" fill="#6a6868" opacity="0.38"/>
<path d="M191.9,1664.7 Q200.3,1678.3 208.7,1664.7" stroke="#d4d2d0" stroke-width="1.6" fill="none" opacity="0.45"/>
<ellipse cx="4.1" cy="1681.0" rx="8.8" ry="10.0" fill="#6a6868" opacity="0.38"/>
<path d="M-5.7,1683.0 Q4.1,1696.0 13.9,1683.0" stroke="#d4d2d0" stroke-width="1.6" fill="none" opacity="0.45"/>
<ellipse cx="27.8" cy="1684.4" rx="9.2" ry="10.8" fill="#6a6868" opacity="0.38"/>
<path d="M17.6,1686.5 Q27.8,1700.5 38.0,1686.5" stroke="#d4d2d0" stroke-width="1.6" fill="none" opacity="0.45"/>
<ellipse cx="74.2" cy="1684.5" rx="6.9" ry="8.2" fill="#6a6868" opacity="0.38"/>
<path d="M66.3,1686.2 Q74.2,1696.9 82.2,1686.2" stroke="#d4d2d0" stroke-width="1.6" fill="none" opacity="0.45"/>
<ellipse cx="98.2" cy="1679.7" rx="10.9" ry="11.6" fill="#6a6868" opacity="0.38"/>
<path d="M86.3,1682.0 Q98.2,1697.1 110.1,1682.0" stroke="#d4d2d0" stroke-width="1.6" fill="none" opacity="0.45"/>
<ellipse cx="124.8" cy="1685.8" rx="10.4" ry="7.2" fill="#6a6868" opacity="0.38"/>
<path d="M113.4,1687.3 Q124.8,1696.6 136.2,1687.3" stroke="#d4d2d0" stroke-width="1.6" fill="none" opacity="0.45"/>
<ellipse cx="146.9" cy="1680.6" rx="6.3" ry="8.4" fill="#6a6868" opacity="0.38"/>
<path d="M139.6,1682.2 Q146.9,1693.1 154.2,1682.2" stroke="#d4d2d0" stroke-width="1.6" fill="none" opacity="0.45"/>
<ellipse cx="191.4" cy="1682.4" rx="8.1" ry="10.1" fill="#6a6868" opacity="0.38"/>
<path d="M182.3,1684.4 Q191.4,1697.6 200.5,1684.4" stroke="#d4d2d0" stroke-width="1.6" fill="none" opacity="0.45"/>
<ellipse cx="11.9" cy="1697.2" rx="6.5" ry="9.7" fill="#6a6868" opacity="0.38"/>
<path d="M4.4,1699.2 Q11.9,1711.8 19.4,1699.2" stroke="#d4d2d0" stroke-width="1.6" fill="none" opacity="0.45"/>
<ellipse cx="80.5" cy="1701.1" rx="6.4" ry="7.4" fill="#6a6868" opacity="0.38"/>
<path d="M73.1,1702.6 Q80.5,1712.3 87.8,1702.6" stroke="#d4d2d0" stroke-width="1.6" fill="none" opacity="0.45"/>
<ellipse cx="111.4" cy="1702.5" rx="9.4" ry="9.8" fill="#6a6868" opacity="0.38"/>
<path d="M101.0,1704.5 Q111.4,1717.1 121.8,1704.5" stroke="#d4d2d0" stroke-width="1.6" fill="none" opacity="0.45"/>
<ellipse cx="182.3" cy="1702.1" rx="9.2" ry="8.9" fill="#6a6868" opacity="0.38"/>
<path d="M172.1,1703.9 Q182.3,1715.4 192.4,1703.9" stroke="#d4d2d0" stroke-width="1.6" fill="none" opacity="0.45"/>
<ellipse cx="207.4" cy="1701.5" rx="8.4" ry="8.1" fill="#6a6868" opacity="0.38"/>
<path d="M198.0,1703.1 Q207.4,1713.6 216.8,1703.1" stroke="#d4d2d0" stroke-width="1.6" fill="none" opacity="0.45"/>
<ellipse cx="-1.2" cy="1722.8" rx="7.7" ry="10.7" fill="#6a6868" opacity="0.38"/>
<path d="M-9.9,1724.9 Q-1.2,1738.8 7.5,1724.9" stroke="#d4d2d0" stroke-width="1.6" fill="none" opacity="0.45"/>
<ellipse cx="21.1" cy="1722.8" rx="10.2" ry="7.4" fill="#6a6868" opacity="0.38"/>
<path d="M9.9,1724.3 Q21.1,1733.9 32.3,1724.3" stroke="#d4d2d0" stroke-width="1.6" fill="none" opacity="0.45"/>
<ellipse cx="72.4" cy="1720.0" rx="6.6" ry="11.0" fill="#6a6868" opacity="0.38"/>
<path d="M64.8,1722.2 Q72.4,1736.6 80.0,1722.2" stroke="#d4d2d0" stroke-width="1.6" fill="none" opacity="0.45"/>
<ellipse cx="91.3" cy="1723.8" rx="9.1" ry="10.8" fill="#6a6868" opacity="0.38"/>
<path d="M81.2,1725.9 Q91.3,1740.0 101.4,1725.9" stroke="#d4d2d0" stroke-width="1.6" fill="none" opacity="0.45"/>
<ellipse cx="119.0" cy="1722.4" rx="7.1" ry="9.1" fill="#6a6868" opacity="0.38"/>
<path d="M110.9,1724.2 Q119.0,1736.1 127.1,1724.2" stroke="#d4d2d0" stroke-width="1.6" fill="none" opacity="0.45"/>
<ellipse cx="168.4" cy="1719.3" rx="7.3" ry="11.0" fill="#6a6868" opacity="0.38"/>
<path d="M160.1,1721.5 Q168.4,1735.9 176.7,1721.5" stroke="#d4d2d0" stroke-width="1.6" fill="none" opacity="0.45"/>
<ellipse cx="196.2" cy="1718.2" rx="7.8" ry="10.3" fill="#6a6868" opacity="0.38"/>
<path d="M187.4,1720.2 Q196.2,1733.6 205.1,1720.2" stroke="#d4d2d0" stroke-width="1.6" fill="none" opacity="0.45"/>
<ellipse cx="8.3" cy="1738.5" rx="10.9" ry="8.6" fill="#6a6868" opacity="0.38"/>
<path d="M-3.7,1740.2 Q8.3,1751.4 20.2,1740.2" stroke="#d4d2d0" stroke-width="1.6" fill="none" opacity="0.45"/>
<ellipse cx="40.0" cy="1738.8" rx="8.7" ry="10.7" fill="#6a6868" opacity="0.38"/>
<path d="M30.3,1741.0 Q40.0,1754.9 49.7,1741.0" stroke="#d4d2d0" stroke-width="1.6" fill="none" opacity="0.45"/>
<ellipse cx="56.9" cy="1739.9" rx="10.6" ry="9.1" fill="#6a6868" opacity="0.38"/>
<path d="M45.3,1741.8 Q56.9,1753.7 68.5,1741.8" stroke="#d4d2d0" stroke-width="1.6" fill="none" opacity="0.45"/>
<ellipse cx="104.9" cy="1736.8" rx="7.8" ry="7.5" fill="#6a6868" opacity="0.38"/>
<path d="M96.1,1738.3 Q104.9,1748.0 113.8,1738.3" stroke="#d4d2d0" stroke-width="1.6" fill="none" opacity="0.45"/>
<ellipse cx="130.2" cy="1737.8" rx="10.4" ry="7.4" fill="#6a6868" opacity="0.38"/>
<path d="M118.8,1739.3 Q130.2,1748.9 141.6,1739.3" stroke="#d4d2d0" stroke-width="1.6" fill="none" opacity="0.45"/>
<ellipse cx="204.3" cy="1738.5" rx="6.4" ry="9.8" fill="#6a6868" opacity="0.38"/>
<path d="M196.9,1740.5 Q204.3,1753.2 211.7,1740.5" stroke="#d4d2d0" stroke-width="1.6" fill="none" opacity="0.45"/>
<ellipse cx="21.0" cy="1759.1" rx="8.4" ry="10.4" fill="#6a6868" opacity="0.38"/>
<path d="M11.6,1761.1 Q21.0,1774.7 30.5,1761.1" stroke="#d4d2d0" stroke-width="1.6" fill="none" opacity="0.45"/>
<ellipse cx="48.3" cy="1760.8" rx="7.5" ry="10.9" fill="#6a6868" opacity="0.38"/>
<path d="M39.8,1763.0 Q48.3,1777.1 56.8,1763.0" stroke="#d4d2d0" stroke-width="1.6" fill="none" opacity="0.45"/>
<ellipse cx="75.6" cy="1755.9" rx="6.4" ry="8.1" fill="#6a6868" opacity="0.38"/>
<path d="M68.2,1757.5 Q75.6,1768.0 82.9,1757.5" stroke="#d4d2d0" stroke-width="1.6" fill="none" opacity="0.45"/>
<ellipse cx="99.1" cy="1761.2" rx="9.3" ry="7.4" fill="#6a6868" opacity="0.38"/>
<path d="M88.8,1762.7 Q99.1,1772.3 109.4,1762.7" stroke="#d4d2d0" stroke-width="1.6" fill="none" opacity="0.45"/>
<ellipse cx="188.0" cy="1760.7" rx="7.5" ry="10.6" fill="#6a6868" opacity="0.38"/>
<path d="M179.5,1762.8 Q188.0,1776.6 196.5,1762.8" stroke="#d4d2d0" stroke-width="1.6" fill="none" opacity="0.45"/>
<ellipse cx="14.9" cy="1774.0" rx="9.5" ry="8.4" fill="#6a6868" opacity="0.38"/>
<path d="M4.4,1775.7 Q14.9,1786.6 25.4,1775.7" stroke="#d4d2d0" stroke-width="1.6" fill="none" opacity="0.45"/>
<ellipse cx="61.8" cy="1780.3" rx="6.7" ry="8.8" fill="#6a6868" opacity="0.38"/>
<path d="M54.1,1782.0 Q61.8,1793.5 69.5,1782.0" stroke="#d4d2d0" stroke-width="1.6" fill="none" opacity="0.45"/>
<ellipse cx="80.2" cy="1777.0" rx="9.6" ry="8.8" fill="#6a6868" opacity="0.38"/>
<path d="M69.5,1778.8 Q80.2,1790.3 90.8,1778.8" stroke="#d4d2d0" stroke-width="1.6" fill="none" opacity="0.45"/>
<ellipse cx="156.5" cy="1777.1" rx="6.6" ry="10.5" fill="#6a6868" opacity="0.38"/>
<path d="M148.9,1779.2 Q156.5,1792.9 164.1,1779.2" stroke="#d4d2d0" stroke-width="1.6" fill="none" opacity="0.45"/>
<ellipse cx="207.4" cy="1780.9" rx="8.8" ry="11.6" fill="#6a6868" opacity="0.38"/>
<path d="M197.6,1783.2 Q207.4,1798.3 217.2,1783.2" stroke="#d4d2d0" stroke-width="1.6" fill="none" opacity="0.45"/>
<ellipse cx="-4.0" cy="1792.5" rx="10.7" ry="11.6" fill="#6a6868" opacity="0.38"/>
<path d="M-15.7,1794.8 Q-4.0,1809.8 7.7,1794.8" stroke="#d4d2d0" stroke-width="1.6" fill="none" opacity="0.45"/>
<ellipse cx="23.6" cy="1798.1" rx="8.2" ry="11.0" fill="#6a6868" opacity="0.38"/>
<path d="M14.4,1800.3 Q23.6,1814.6 32.8,1800.3" stroke="#d4d2d0" stroke-width="1.6" fill="none" opacity="0.45"/>
<ellipse cx="47.7" cy="1796.1" rx="7.5" ry="8.6" fill="#6a6868" opacity="0.38"/>
<path d="M39.1,1797.8 Q47.7,1809.0 56.2,1797.8" stroke="#d4d2d0" stroke-width="1.6" fill="none" opacity="0.45"/>
<ellipse cx="73.0" cy="1792.1" rx="8.0" ry="11.7" fill="#6a6868" opacity="0.38"/>
<path d="M64.0,1794.4 Q73.0,1809.6 82.0,1794.4" stroke="#d4d2d0" stroke-width="1.6" fill="none" opacity="0.45"/>
<ellipse cx="99.4" cy="1793.5" rx="10.5" ry="8.2" fill="#6a6868" opacity="0.38"/>
<path d="M88.0,1795.1 Q99.4,1805.8 110.9,1795.1" stroke="#d4d2d0" stroke-width="1.6" fill="none" opacity="0.45"/>
<ellipse cx="171.9" cy="1798.4" rx="7.8" ry="8.8" fill="#6a6868" opacity="0.38"/>
<path d="M163.1,1800.2 Q171.9,1811.7 180.7,1800.2" stroke="#d4d2d0" stroke-width="1.6" fill="none" opacity="0.45"/>
<ellipse cx="195.6" cy="1797.0" rx="7.8" ry="9.0" fill="#6a6868" opacity="0.38"/>
<path d="M186.8,1798.8 Q195.6,1810.5 204.4,1798.8" stroke="#d4d2d0" stroke-width="1.6" fill="none" opacity="0.45"/>
<ellipse cx="13.0" cy="1815.0" rx="7.9" ry="8.0" fill="#6a6868" opacity="0.38"/>
<path d="M4.1,1816.6 Q13.0,1827.0 21.9,1816.6" stroke="#d4d2d0" stroke-width="1.6" fill="none" opacity="0.45"/>
<ellipse cx="39.0" cy="1813.1" rx="8.8" ry="11.0" fill="#6a6868" opacity="0.38"/>
<path d="M29.2,1815.3 Q39.0,1829.5 48.9,1815.3" stroke="#d4d2d0" stroke-width="1.6" fill="none" opacity="0.45"/>
<ellipse cx="62.4" cy="1817.2" rx="8.7" ry="11.2" fill="#6a6868" opacity="0.38"/>
<path d="M52.7,1819.5 Q62.4,1834.0 72.1,1819.5" stroke="#d4d2d0" stroke-width="1.6" fill="none" opacity="0.45"/>
<ellipse cx="83.1" cy="1818.2" rx="8.8" ry="7.9" fill="#6a6868" opacity="0.38"/>
<path d="M73.2,1819.7 Q83.1,1830.0 92.9,1819.7" stroke="#d4d2d0" stroke-width="1.6" fill="none" opacity="0.45"/>
<ellipse cx="109.9" cy="1817.1" rx="9.8" ry="11.4" fill="#6a6868" opacity="0.38"/>
<path d="M99.2,1819.4 Q109.9,1834.2 120.7,1819.4" stroke="#d4d2d0" stroke-width="1.6" fill="none" opacity="0.45"/>
<ellipse cx="178.6" cy="1816.1" rx="7.4" ry="7.1" fill="#6a6868" opacity="0.38"/>
<path d="M170.1,1817.5 Q178.6,1826.8 187.0,1817.5" stroke="#d4d2d0" stroke-width="1.6" fill="none" opacity="0.45"/>
<ellipse cx="201.3" cy="1818.6" rx="8.6" ry="9.7" fill="#6a6868" opacity="0.38"/>
<path d="M191.7,1820.5 Q201.3,1833.1 210.9,1820.5" stroke="#d4d2d0" stroke-width="1.6" fill="none" opacity="0.45"/>
<path d="M196.4,1600.0 l9.8,8 l8.3,-8" stroke="#d8d6d4" stroke-width="1.8" fill="none" opacity="0.35"/>
<path d="M197.8,1617.0 l5.3,8 l7.7,-8" stroke="#d8d6d4" stroke-width="1.8" fill="none" opacity="0.35"/>
<path d="M197.7,1634.0 l5.4,8 l5.4,-8" stroke="#d8d6d4" stroke-width="1.8" fill="none" opacity="0.35"/>
<path d="M197.4,1651.0 l9.5,8 l5.4,-8" stroke="#d8d6d4" stroke-width="1.8" fill="none" opacity="0.35"/>
<path d="M196.8,1668.0 l5.7,8 l8.7,-8" stroke="#d8d6d4" stroke-width="1.8" fill="none" opacity="0.35"/>
<path d="M196.9,1685.0 l6.2,8 l6.1,-8" stroke="#d8d6d4" stroke-width="1.8" fill="none" opacity="0.35"/>
<path d="M197.6,1702.0 l7.6,8 l8.8,-8" stroke="#d8d6d4" stroke-width="1.8" fill="none" opacity="0.35"/>
<path d="M195.4,1719.0 l6.7,8 l9.8,-8" stroke="#d8d6d4" stroke-width="1.8" fill="none" opacity="0.35"/>
<path d="M197.0,1736.0 l7.5,8 l7.7,-8" stroke="#d8d6d4" stroke-width="1.8" fill="none" opacity="0.35"/>
<path d="M197.3,1753.0 l8.5,8 l9.6,-8" stroke="#d8d6d4" stroke-width="1.8" fill="none" opacity="0.35"/>
<path d="M195.5,1770.0 l9.1,8 l8.3,-8" stroke="#d8d6d4" stroke-width="1.8" fill="none" opacity="0.35"/>
<path d="M198.1,1787.0 l9.0,8 l9.2,-8" stroke="#d8d6d4" stroke-width="1.8" fill="none" opacity="0.35"/>
<path d="M198.3,1804.0 l9.8,8 l8.2,-8" stroke="#d8d6d4" stroke-width="1.8" fill="none" opacity="0.35"/>
<path d="M196.1,1821.0 l8.6,8 l9.0,-8" stroke="#d8d6d4" stroke-width="1.8" fill="none" opacity="0.35"/>
<line x1="295.4" y1="1653.9" x2="295.4" y2="1952.0" stroke="#b4b4b4" stroke-width="1.8" opacity="0.35"/>
<line x1="307.2" y1="1558.4" x2="307.2" y2="1731.9" stroke="#b4b4b4" stroke-width="1.6" opacity="0.35"/>
<line x1="748.4" y1="1532.5" x2="748.4" y2="1680.4" stroke="#b4b4b4" stroke-width="1.2" opacity="0.35"/>
<line x1="571.4" y1="1660.1" x2="571.4" y2="1779.6" stroke="#b4b4b4" stroke-width="1.1" opacity="0.35"/>
<line x1="536.2" y1="1683.9" x2="536.2" y2="1771.9" stroke="#b4b4b4" stroke-width="1.2" opacity="0.35"/>
<line x1="316.5" y1="1560.7" x2="316.5" y2="1692.5" stroke="#b4b4b4" stroke-width="2.4" opacity="0.35"/>
<line x1="542.1" y1="1561.9" x2="542.1" y2="1682.6" stroke="#b4b4b4" stroke-width="1.6" opacity="0.35"/>
<line x1="309.9" y1="1656.8" x2="309.9" y2="1805.4" stroke="#b4b4b4" stroke-width="2.1" opacity="0.35"/>
<line x1="664.4" y1="1607.3" x2="664.4" y2="1744.7" stroke="#b4b4b4" stroke-width="2.8" opacity="0.35"/>
<line x1="717.8" y1="1582.9" x2="717.8" y2="1783.3" stroke="#b4b4b4" stroke-width="2.9" opacity="0.35"/>
<line x1="336.6" y1="1530.8" x2="336.6" y2="1819.3" stroke="#b4b4b4" stroke-width="2.6" opacity="0.35"/>
<line x1="426.7" y1="1615.9" x2="426.7" y2="1809.4" stroke="#b4b4b4" stroke-width="1.5" opacity="0.35"/>
<line x1="759.6" y1="1639.0" x2="759.6" y2="1771.3" stroke="#b4b4b4" stroke-width="1.0" opacity="0.35"/>
<line x1="419.4" y1="1663.8" x2="419.4" y2="1900.7" stroke="#b4b4b4" stroke-width="2.2" opacity="0.35"/>
<line x1="301.5" y1="1549.9" x2="301.5" y2="1700.7" stroke="#b4b4b4" stroke-width="1.5" opacity="0.35"/>
<line x1="693.1" y1="1613.9" x2="693.1" y2="1834.0" stroke="#b4b4b4" stroke-width="3.0" opacity="0.35"/>
<line x1="361.6" y1="1617.2" x2="361.6" y2="1730.3" stroke="#b4b4b4" stroke-width="2.5" opacity="0.35"/>
<line x1="215.8" y1="1668.2" x2="215.8" y2="1934.4" stroke="#b4b4b4" stroke-width="2.6" opacity="0.35"/>
<line x1="260.3" y1="1570.0" x2="260.3" y2="1807.7" stroke="#b4b4b4" stroke-width="1.2" opacity="0.35"/>
<line x1="740.5" y1="1626.4" x2="740.5" y2="1895.0" stroke="#b4b4b4" stroke-width="1.6" opacity="0.35"/>
<line x1="649.1" y1="1596.2" x2="649.1" y2="1877.9" stroke="#b4b4b4" stroke-width="1.2" opacity="0.35"/>
<line x1="669.5" y1="1559.1" x2="669.5" y2="1758.6" stroke="#b4b4b4" stroke-width="2.1" opacity="0.35"/>
<line x1="301.7" y1="1670.1" x2="301.7" y2="1818.6" stroke="#b4b4b4" stroke-width="1.6" opacity="0.35"/>
<line x1="256.8" y1="1576.4" x2="256.8" y2="1759.2" stroke="#b4b4b4" stroke-width="2.4" opacity="0.35"/>
<line x1="412.8" y1="1644.3" x2="412.8" y2="1747.6" stroke="#b4b4b4" stroke-width="1.8" opacity="0.35"/>
<line x1="746.8" y1="1669.7" x2="746.8" y2="1893.6" stroke="#b4b4b4" stroke-width="1.0" opacity="0.35"/>
<line x1="422.4" y1="1648.4" x2="422.4" y2="1780.6" stroke="#b4b4b4" stroke-width="2.1" opacity="0.35"/>
<line x1="220.8" y1="1698.5" x2="220.8" y2="1954.4" stroke="#b4b4b4" stroke-width="1.4" opacity="0.35"/>
<line x1="553.8" y1="1573.7" x2="553.8" y2="1736.4" stroke="#b4b4b4" stroke-width="2.1" opacity="0.35"/>
<line x1="379.0" y1="1582.1" x2="379.0" y2="1748.3" stroke="#b4b4b4" stroke-width="2.3" opacity="0.35"/>
<line x1="356.0" y1="1557.6" x2="356.0" y2="1798.5" stroke="#b4b4b4" stroke-width="1.7" opacity="0.35"/>
<rect x="0" y="1522" width="950" height="450" filter="url(#tex2)" opacity="0.25"/>
</g>
<path d="M919,1522 L950,1522 L950,2162 L788,2162 C784,2080 778,2000 770,1925 L768,1710 C790,1705 810,1695 830,1672 C870,1620 900,1570 919,1522 Z" fill="url(#grt)"/>
<g clip-path="url(#clipright)">
<rect x="760" y="1522" width="190" height="640" filter="url(#tex1)" opacity="0.08"/>
<path d="M768,1905 C780,1990 790,2080 800,2165 L850,2165 C835,2080 815,1990 790,1905 Z" fill="#7a7a7a" filter="url(#blur3)"/>
<path d="M778.0,1925.0 l135.6,-26.3" stroke="#8a8a8a" stroke-width="1.1" opacity="0.35"/>
<path d="M779.2,1941.0 l117.9,-21.6" stroke="#8a8a8a" stroke-width="1.1" opacity="0.35"/>
<path d="M780.4,1957.0 l126.2,-16.8" stroke="#8a8a8a" stroke-width="1.1" opacity="0.35"/>
<path d="M781.6,1973.0 l71.3,-16.9" stroke="#8a8a8a" stroke-width="1.1" opacity="0.35"/>
<path d="M782.8,1989.0 l114.2,-29.2" stroke="#8a8a8a" stroke-width="1.1" opacity="0.35"/>
<path d="M784.0,2005.0 l74.4,-23.0" stroke="#8a8a8a" stroke-width="1.1" opacity="0.35"/>
<path d="M785.2,2021.0 l127.0,-26.9" stroke="#8a8a8a" stroke-width="1.1" opacity="0.35"/>
<path d="M786.4,2037.0 l67.2,-19.5" stroke="#8a8a8a" stroke-width="1.1" opacity="0.35"/>
<path d="M787.6,2053.0 l72.6,-17.5" stroke="#8a8a8a" stroke-width="1.1" opacity="0.35"/>
<path d="M788.8,2069.0 l92.5,-16.5" stroke="#8a8a8a" stroke-width="1.1" opacity="0.35"/>
<path d="M790.0,2085.0 l133.6,-23.5" stroke="#8a8a8a" stroke-width="1.1" opacity="0.35"/>
<path d="M791.2,2101.0 l100.9,-27.9" stroke="#8a8a8a" stroke-width="1.1" opacity="0.35"/>
<path d="M792.4,2117.0 l121.3,-31.4" stroke="#8a8a8a" stroke-width="1.1" opacity="0.35"/>
<path d="M793.6,2133.0 l90.9,-21.6" stroke="#8a8a8a" stroke-width="1.1" opacity="0.35"/>
</g>
<path d="M919,1522 C900,1570 870,1620 830,1672 C810,1695 790,1705 768,1710" fill="none" stroke="#b0b0b0" stroke-width="5" opacity="0.7" filter="url(#blur1)"/>
<path d="M768,1912 C774,1980 782,2060 790,2160" fill="none" stroke="#b8b8b8" stroke-width="3" opacity="0.7" filter="url(#blur1)"/>
<line x1="767.5" y1="1917.3" x2="781.7" y2="1912.7" stroke="#d4d2d0" stroke-width="1.6" opacity="0.63"/>
<line x1="770.3" y1="1929.3" x2="776.7" y2="1927.8" stroke="#d4d2d0" stroke-width="1.1" opacity="0.58"/>
<line x1="770.1" y1="1934.9" x2="786.5" y2="1929.2" stroke="#d4d2d0" stroke-width="1.5" opacity="0.56"/>
<line x1="772.1" y1="1945.3" x2="796.5" y2="1938.3" stroke="#d4d2d0" stroke-width="1.1" opacity="0.53"/>
<line x1="772.8" y1="1955.1" x2="798.9" y2="1947.8" stroke="#d4d2d0" stroke-width="1.4" opacity="0.64"/>
<line x1="774.4" y1="1965.6" x2="793.2" y2="1961.8" stroke="#d4d2d0" stroke-width="0.9" opacity="0.44"/>
<line x1="774.8" y1="1978.6" x2="787.5" y2="1973.8" stroke="#d4d2d0" stroke-width="1.1" opacity="0.51"/>
<line x1="776.1" y1="1985.0" x2="784.9" y2="1981.7" stroke="#d4d2d0" stroke-width="1.2" opacity="0.55"/>
<line x1="775.1" y1="1998.5" x2="799.7" y2="1988.7" stroke="#d4d2d0" stroke-width="1.5" opacity="0.56"/>
<line x1="777.4" y1="2005.0" x2="789.3" y2="2000.5" stroke="#d4d2d0" stroke-width="1.0" opacity="0.55"/>
<line x1="776.8" y1="2020.6" x2="785.4" y2="2019.2" stroke="#d4d2d0" stroke-width="0.8" opacity="0.41"/>
<line x1="780.0" y1="2031.9" x2="789.7" y2="2029.7" stroke="#d4d2d0" stroke-width="1.3" opacity="0.61"/>
<line x1="779.4" y1="2037.1" x2="790.6" y2="2035.3" stroke="#d4d2d0" stroke-width="1.0" opacity="0.51"/>
<line x1="779.5" y1="2045.1" x2="788.3" y2="2043.4" stroke="#d4d2d0" stroke-width="1.2" opacity="0.44"/>
<line x1="780.5" y1="2058.5" x2="790.0" y2="2057.0" stroke="#d4d2d0" stroke-width="1.3" opacity="0.40"/>
<line x1="782.4" y1="2071.7" x2="790.2" y2="2069.7" stroke="#d4d2d0" stroke-width="1.3" opacity="0.59"/>
<line x1="783.5" y1="2080.1" x2="791.5" y2="2076.9" stroke="#d4d2d0" stroke-width="1.5" opacity="0.65"/>
<line x1="783.2" y1="2087.3" x2="792.0" y2="2084.0" stroke="#d4d2d0" stroke-width="1.2" opacity="0.53"/>
<line x1="785.5" y1="2097.5" x2="791.7" y2="2096.4" stroke="#d4d2d0" stroke-width="1.4" opacity="0.67"/>
<line x1="785.6" y1="2109.9" x2="796.3" y2="2107.4" stroke="#d4d2d0" stroke-width="1.3" opacity="0.37"/>
<line x1="785.6" y1="2115.0" x2="793.7" y2="2113.0" stroke="#d4d2d0" stroke-width="0.8" opacity="0.59"/>
<line x1="786.1" y1="2128.2" x2="792.2" y2="2126.7" stroke="#d4d2d0" stroke-width="1.0" opacity="0.37"/>
<path d="M500,1914 L754,1914 Q768,1914 768,1900 L768,1710" fill="none" stroke="#5a5a5a" stroke-width="2"/>
<path d="M448,2080 L500,2074 C520,2100 540,2130 560,2163 L372,2163 Z" fill="#7c7978" opacity="0.5" filter="url(#blur3)"/>
<path d="M448,2080 L372,2162" stroke="#3a3a3a" stroke-width="1.5" fill="none"/>
<polygon points="466,1594 462,1612 458,1630 455,1650 453,1660 456,1668 452,1680 450,1700 452,1720 451,1750 450,1780 451,1810 450,1840 449,1870 449,1900 448,1940 448,1980 447,2020 447,2060 448,2078 492,2081 499,2072 500,2040 499,2000 499,1960 499,1920 498,1880 498,1840 498,1800 498,1760 499,1720 498,1680 497,1640 497,1604 496,1597" fill="#0f0d0d"/>
<clipPath id="clipch"><polygon points="466,1594 462,1612 458,1630 455,1650 453,1660 456,1668 452,1680 450,1700 452,1720 451,1750 450,1780 451,1810 450,1840 449,1870 449,1900 448,1940 448,1980 447,2020 447,2060 448,2078 492,2081 499,2072 500,2040 499,2000 499,1960 499,1920 498,1880 498,1840 498,1800 498,1760 499,1720 498,1680 497,1640 497,1604 496,1597"/></clipPath>
<g clip-path="url(#clipch)">
<rect x="478" y="1590" width="24" height="500" fill="url(#wallg)"/>
<path d="M501,1610 C492,1618 486,1636 482,1654 C488,1640 495,1632 501,1628 Z" fill="url(#wedge)" opacity="0.9"/>
<path d="M501,1656 C492,1664 486,1682 482,1700 C488,1686 495,1678 501,1674 Z" fill="url(#wedge)" opacity="0.9"/>
<path d="M501,1702 C492,1710 486,1728 482,1746 C488,1732 495,1724 501,1720 Z" fill="url(#wedge)" opacity="0.9"/>
<path d="M501,1748 C492,1756 486,1774 482,1792 C488,1778 495,1770 501,1766 Z" fill="url(#wedge)" opacity="0.9"/>
<path d="M501,1794 C492,1802 486,1820 482,1838 C488,1824 495,1816 501,1812 Z" fill="url(#wedge)" opacity="0.9"/>
<path d="M501,1840 C492,1848 486,1866 482,1884 C488,1870 495,1862 501,1858 Z" fill="url(#wedge)" opacity="0.9"/>
<path d="M501,1886 C492,1894 486,1912 482,1930 C488,1916 495,1908 501,1904 Z" fill="url(#wedge)" opacity="0.9"/>
<path d="M501,1932 C492,1940 486,1958 482,1976 C488,1962 495,1954 501,1950 Z" fill="url(#wedge)" opacity="0.9"/>
<path d="M501,1978 C492,1986 486,2004 482,2022 C488,2008 495,2000 501,1996 Z" fill="url(#wedge)" opacity="0.9"/>
<path d="M501,2024 C492,2032 486,2050 482,2068 C488,2054 495,2046 501,2042 Z" fill="url(#wedge)" opacity="0.9"/>
<path d="M501,2070 C492,2078 486,2096 482,2114 C488,2100 495,2092 501,2088 Z" fill="url(#wedge)" opacity="0.9"/>
</g>
<polygon points="466,1594 462,1612 458,1630 455,1650 453,1660 456,1668 452,1680 450,1700 452,1720 451,1750 450,1780 451,1810 450,1840 449,1870 449,1900 448,1940 448,1980 447,2020 447,2060 448,2078 492,2081 499,2072 500,2040 499,2000 499,1960 499,1920 498,1880 498,1840 498,1800 498,1760 499,1720 498,1680 497,1640 497,1604 496,1597" fill="none" stroke="#bdbdbd" stroke-width="1.2" opacity="0.6"/>
</g>
<text x="16.2" y="1582.6" font-family="DejaVu Sans, sans-serif" font-size="66" fill="#f4f4f4">c</text>
<line x1="210" y1="1819.7" x2="440" y2="1819.7" stroke="#fff" stroke-width="8"/>
<polygon points="451,1819.7 428,1809 433,1819.7 428,1830.4" fill="#fff"/>
<line x1="512" y1="1819" x2="742" y2="1819" stroke="#fff" stroke-width="8.5"/>
<polygon points="502,1819 525,1808.3 520,1819 525,1829.7" fill="#fff"/>
<text x="538.5" y="1800" font-family="Liberation Sans, sans-serif" font-size="54" fill="#fafafa" stroke="#fafafa" stroke-width="1.5" textLength="198" lengthAdjust="spacingAndGlyphs">30.9 µm</text>
<rect x="0" y="2160.3" width="950" height="42" fill="#221f1e"/>
<g stroke="#4a4644" stroke-width="1.2"><line x1="289.2" y1="2160.3" x2="289.2" y2="2202"/><line x1="354.6" y1="2160.3" x2="354.6" y2="2202"/><line x1="446.8" y1="2160.3" x2="446.8" y2="2202"/><line x1="590.5" y1="2160.3" x2="590.5" y2="2202"/><line x1="590.5" y1="2182.6" x2="950" y2="2182.6"/></g>
<g stroke="#5e5a58" stroke-width="1.6"><line x1="613.2" y1="2160.5" x2="613.2" y2="2182"/><line x1="935" y1="2160.5" x2="935" y2="2182"/></g>
<g stroke="#5e5a58" stroke-width="3"><line x1="613.2" y1="2171" x2="741" y2="2171"/><line x1="806" y1="2171" x2="935" y2="2171"/></g>
<text x="746.3" y="2177" font-family="Liberation Sans, sans-serif" font-size="15.4" fill="#d0d0d0" textLength="54.7" lengthAdjust="spacingAndGlyphs">200 µm</text>
<g transform="translate(24.4,2181.2)" fill="none" stroke="#d8d8d8" stroke-width="1.6"><ellipse rx="19.5" ry="6.5"/><ellipse rx="19.5" ry="6.5" transform="rotate(60)"/><ellipse rx="19.5" ry="6.5" transform="rotate(-60)"/><circle r="4.2" fill="#221f1e" stroke-width="2"/><circle cx="9" cy="-15.5" r="1.8" fill="#d8d8d8" stroke="none"/><circle cx="-9" cy="15.5" r="1.8" fill="#d8d8d8" stroke="none"/></g>
<text x="51.2" y="2176.8" font-family="Liberation Sans, sans-serif" font-size="15.4" fill="#c6c6c6" textLength="61.3" lengthAdjust="spacingAndGlyphs">use case</text>
<text x="130.7" y="2176.8" font-family="Liberation Sans, sans-serif" font-size="15.4" fill="#c6c6c6" textLength="35.0" lengthAdjust="spacingAndGlyphs">HFW</text>
<text x="196.7" y="2176.8" font-family="Liberation Sans, sans-serif" font-size="15.4" fill="#c6c6c6" textLength="26.6" lengthAdjust="spacingAndGlyphs">WD</text>
<text x="293.7" y="2176.8" font-family="Liberation Sans, sans-serif" font-size="15.4" fill="#c6c6c6" textLength="21.1" lengthAdjust="spacingAndGlyphs">HV</text>
<text x="358.4" y="2176.8" font-family="Liberation Sans, sans-serif" font-size="15.4" fill="#c6c6c6" textLength="27.8" lengthAdjust="spacingAndGlyphs">curr</text>
<text x="410.5" y="2176.8" font-family="Liberation Sans, sans-serif" font-size="15.4" fill="#c6c6c6" textLength="25.3" lengthAdjust="spacingAndGlyphs">det</text>
<text x="451.0" y="2176.8" font-family="Liberation Sans, sans-serif" font-size="15.4" fill="#c6c6c6" textLength="32.0" lengthAdjust="spacingAndGlyphs">mag</text>
<text x="507.8" y="2176.8" font-family="Liberation Sans, sans-serif" font-size="15.4" fill="#d0d0d0" textLength="76.4" lengthAdjust="spacingAndGlyphs">9/13/2019</text>
<g transform="translate(487.5,2166.5)" stroke="#8a8a8a" stroke-width="1" fill="none"><rect x="0" y="0" width="8" height="8"/><line x1="4" y1="0" x2="4" y2="8"/><line x1="0" y1="4" x2="8" y2="4"/></g>
<text x="52.2" y="2197.4" font-family="Liberation Sans, sans-serif" font-weight="bold" font-size="15.4" fill="#e6e6e6" textLength="69.8" lengthAdjust="spacingAndGlyphs">Standard</text>
<text x="130.7" y="2197.4" font-family="Liberation Sans, sans-serif" font-weight="bold" font-size="15.4" fill="#e6e6e6" textLength="61.3" lengthAdjust="spacingAndGlyphs">592 µm</text>
<text x="197.0" y="2197.4" font-family="Liberation Sans, sans-serif" font-weight="bold" font-size="15.4" fill="#e6e6e6" textLength="87.0" lengthAdjust="spacingAndGlyphs">9.7785 mm</text>
<text x="293.7" y="2197.4" font-family="Liberation Sans, sans-serif" font-weight="bold" font-size="15.4" fill="#e6e6e6" textLength="57.8" lengthAdjust="spacingAndGlyphs">5.00 kV</text>
<text x="358.4" y="2197.4" font-family="Liberation Sans, sans-serif" font-weight="bold" font-size="15.4" fill="#e6e6e6" textLength="44.2" lengthAdjust="spacingAndGlyphs">50 pA</text>
<text x="410.5" y="2197.4" font-family="Liberation Sans, sans-serif" font-weight="bold" font-size="15.4" fill="#e6e6e6" textLength="30.0" lengthAdjust="spacingAndGlyphs">ETD</text>
<text x="451.6" y="2197.4" font-family="Liberation Sans, sans-serif" font-weight="bold" font-size="15.4" fill="#e6e6e6" textLength="40.4" lengthAdjust="spacingAndGlyphs">350 x</text>
<text x="504.6" y="2197.4" font-family="Liberation Sans, sans-serif" font-size="15.4" fill="#cfcfcf" textLength="81.2" lengthAdjust="spacingAndGlyphs">4:34:58 PM</text>
</g>
</svg>
</body></html>
